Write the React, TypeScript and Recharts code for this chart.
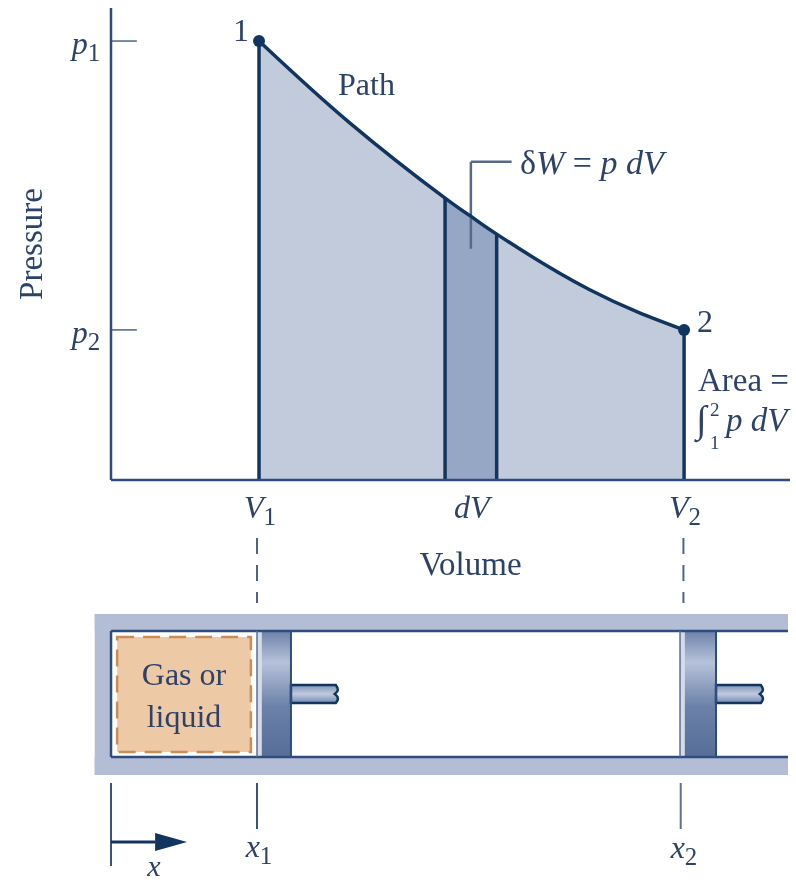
import React from 'react';
import {
  Area,
  ComposedChart,
  Line,
  ReferenceArea,
  ReferenceDot,
  ReferenceLine,
  XAxis,
  YAxis,
} from 'recharts';

// p-V curve (arbitrary 0-100 axis units)
const volumes = [21.8, 35.2, 49.2, 53, 56.8, 70.5, 84.4];
const pressures = [93, 75.6, 59.7, 55.9, 52.1, 40.3, 31.8];

const V1 = 21.8;
const DV_LEFT = 49.2;
const DV_MID = 53;
const DV_RIGHT = 56.8;
const V2 = 84.4;
const P1 = 93;
const P2 = 31.8;

const volumeTicks = [V1, DV_MID, V2];
const pressureTicks = [P2, P1];
const volumeTickNames: Record<number, [string, string]> = {
  [V1]: ['V', '1'],
  [DV_MID]: ['dV', ''],
  [V2]: ['V', '2'],
};
const pressureTickNames: Record<number, [string, string]> = {
  [P1]: ['p', '1'],
  [P2]: ['p', '2'],
};

const curve = volumes.map((volume, i) => ({
  volume,
  pressure: pressures[i],
  strip: volume >= DV_LEFT && volume <= DV_RIGHT ? pressures[i] : null,
}));

// cylinder parts, same volume units across, bore-centred units down
const housing = [-2.4, 99.7];
const topWall = [-80, -63];
const bottomWall = [63, 81];
const gasBox = [0.9, 20.6, -57, 58];
const pistons = [
  { light: 21.5, body: 22.2, face: 26.5, rodEnd: 33.1 },
  { light: 83.8, body: 84.5, face: 89.1, rodEnd: 95.7 },
];
const stations = pistons.map((p) => ({ v: p.light, bore: 0 }));

const INK = '#2c4268';
const NAVY = '#12355f';
const SERIF = '"Liberation Serif", serif';

function SubLabel({ x, y, name, sub, size = 32 }: any) {
  return (
    <text x={x} y={y} fill={INK} fontFamily={SERIF} fontSize={size} textAnchor="middle">
      <tspan fontStyle="italic">{name}</tspan>
      {sub ? <tspan fontSize={size * 0.78} dy={7}>{sub}</tspan> : null}
    </text>
  );
}

function VolumeTick({ x, payload }: any) {
  const [name, sub] = volumeTickNames[payload.value];
  return <SubLabel x={x + 1} y={518} name={name} sub={sub} />;
}

function PressureTick({ y, payload }: any) {
  const [name, sub] = pressureTickNames[payload.value];
  return <SubLabel x={86} y={y + 13} name={name} sub={sub} />;
}

function GasLabel({ viewBox }: any) {
  const cx = viewBox.x + viewBox.width / 2;
  return (
    <g fontFamily={SERIF} fill={INK} fontSize={32} textAnchor="middle">
      <text x={cx} y={viewBox.y + 48}>Gas or</text>
      <text x={cx} y={viewBox.y + 90}>liquid</text>
    </g>
  );
}

function Rod({ x, y, width, height }: any) {
  const r = x + width;
  const b = y + height;
  return (
    <path
      d={`M${x} ${y}H${r}C${r + 3} ${y + 4} ${r + 3} ${y + 6} ${r - 1} ${y + height / 2}C${r + 3} ${b - 6} ${r + 3} ${b - 3} ${r} ${b}H${x}Z`}
      fill="url(#rodFill)"
      stroke={NAVY}
      strokeWidth={2.5}
    />
  );
}

function ArrowHead({ x, y, width, height }: any) {
  return <path d={`M${x} ${y}L${x + width} ${y + height / 2}L${x} ${y + height}Z`} fill={NAVY} />;
}

function PvChart() {
  return (
    <ComposedChart
      width={796}
      height={600}
      data={curve}
      margin={{ top: 8, right: 6, bottom: 0, left: 0 }}
    >
      <XAxis
        dataKey="volume"
        type="number"
        domain={[0, 100]}
        ticks={volumeTicks}
        tick={<VolumeTick />}
        tickLine={false}
        height={120}
        axisLine={{ stroke: '#2f4d7c', strokeWidth: 2.5 }}
        label={{ value: 'Volume', position: 'insideBottom', offset: 25, dx: 20, fill: INK, fontSize: 33, fontFamily: SERIF }}
      />
      <YAxis
        type="number"
        domain={[0, 100]}
        ticks={pressureTicks}
        tick={<PressureTick />}
        tickLine={false}
        width={111}
        axisLine={{ stroke: '#2f4d7c', strokeWidth: 2.5 }}
        label={{ value: 'Pressure', angle: -90, position: 'insideLeft', offset: 30, textAnchor: 'middle', fill: INK, fontSize: 33, fontFamily: SERIF }}
      />
      <Area dataKey="pressure" type="natural" fill="#c2cbdc" fillOpacity={1} stroke="none" dot={false} isAnimationActive={false} />
      <Area dataKey="strip" type="natural" fill="#96a6c5" fillOpacity={1} stroke="none" dot={false} isAnimationActive={false} />
      <ReferenceLine segment={[{ x: 0, y: P1 }, { x: 3.8, y: P1 }]} stroke="#4d6488" strokeWidth={1.5} />
      <ReferenceLine segment={[{ x: 0, y: P2 }, { x: 3.8, y: P2 }]} stroke="#4d6488" strokeWidth={1.5} />
      <ReferenceLine segment={[{ x: V1, y: 0 }, { x: V1, y: P1 }]} stroke={NAVY} strokeWidth={3.5} />
      <ReferenceLine segment={[{ x: DV_LEFT, y: 0 }, { x: DV_LEFT, y: 59.7 }]} stroke={NAVY} strokeWidth={3.5} />
      <ReferenceLine segment={[{ x: DV_RIGHT, y: 0 }, { x: DV_RIGHT, y: 52.1 }]} stroke={NAVY} strokeWidth={3.5} />
      <ReferenceLine segment={[{ x: V2, y: 0 }, { x: V2, y: P2 }]} stroke={NAVY} strokeWidth={3.5} />
      <ReferenceLine segment={[{ x: DV_MID, y: 49 }, { x: DV_MID, y: 67.4 }]} stroke="#56698a" strokeWidth={2.5} />
      <ReferenceLine segment={[{ x: DV_MID, y: 67.4 }, { x: 59, y: 67.4 }]} stroke="#56698a" strokeWidth={2.5} />
      <Line dataKey="pressure" type="natural" stroke={NAVY} strokeWidth={3.5} dot={false} isAnimationActive={false} />
      <ReferenceDot x={V1} y={P1} r={6} fill={NAVY} stroke="none" />
      <ReferenceDot x={V2} y={P2} r={6} fill={NAVY} stroke="none" />
      <g fontFamily={SERIF} fill={INK}>
        <text x={233} y={41} fontSize={32}>1</text>
        <text x={338} y={95} fontSize={32}>Path</text>
        <text x={697} y={332} fontSize={32}>2</text>
        <text x={520} y={174} fontSize={34}>
          <tspan>δ</tspan>
          <tspan fontStyle="italic">W</tspan>
          <tspan> = </tspan>
          <tspan fontStyle="italic">p dV</tspan>
        </text>
        <text x={698} y={391} fontSize={33}>Area =</text>
        <text x={696} y={432} fontSize={38}>∫</text>
        <text x={710} y={416} fontSize={19}>2</text>
        <text x={710} y={449} fontSize={19}>1</text>
        <text x={726} y={431} fontSize={33} fontStyle="italic">p dV</text>
      </g>
    </ComposedChart>
  );
}

function CylinderChart() {
  const wall = '#b3bdd6';
  return (
    <ComposedChart width={796} height={353} data={stations} margin={{ top: 0, right: 0, bottom: 0, left: 0 }}>
      <defs>
        <linearGradient id="pistonFill" x1="0" y1="0" x2="0" y2="1">
          <stop offset="0" stopColor="#6d82aa" />
          <stop offset="0.25" stopColor="#b7c2d9" />
          <stop offset="0.6" stopColor="#6b81a8" />
          <stop offset="1" stopColor="#566d98" />
        </linearGradient>
        <linearGradient id="rodFill" x1="0" y1="0" x2="0" y2="1">
          <stop offset="0" stopColor="#7f93b8" />
          <stop offset="0.5" stopColor="#c0cadf" />
          <stop offset="1" stopColor="#7489b0" />
        </linearGradient>
      </defs>
      <XAxis type="number" dataKey="v" domain={[-16.35, 100.88]} hide />
      <YAxis type="number" domain={[-164, 189]} reversed hide />
      <Line dataKey="bore" stroke="none" dot={false} isAnimationActive={false} />

      <ReferenceArea x1={housing[0]} x2={housing[1]} y1={topWall[0]} y2={topWall[1]} fill={wall} fillOpacity={1} stroke="none" ifOverflow="visible" />
      <ReferenceArea x1={housing[0]} x2={housing[1]} y1={bottomWall[0]} y2={bottomWall[1]} fill={wall} fillOpacity={1} stroke="none" ifOverflow="visible" />
      <ReferenceArea x1={housing[0]} x2={0} y1={topWall[0]} y2={bottomWall[1]} fill={wall} fillOpacity={1} stroke="none" ifOverflow="visible" />
      <ReferenceLine segment={[{ x: 0, y: topWall[1] }, { x: housing[1], y: topWall[1] }]} stroke="#2f4d7c" strokeWidth={2.5} />
      <ReferenceLine segment={[{ x: 0, y: bottomWall[0] }, { x: housing[1], y: bottomWall[0] }]} stroke="#2f4d7c" strokeWidth={2.5} />
      <ReferenceLine segment={[{ x: 0, y: topWall[1] }, { x: 0, y: bottomWall[0] }]} stroke="#2f4d7c" strokeWidth={2.5} />

      <ReferenceArea
        x1={gasBox[0]}
        x2={gasBox[1]}
        y1={gasBox[2]}
        y2={gasBox[3]}
        fill="#eec9a6"
        fillOpacity={1}
        stroke="#c98d55"
        strokeWidth={2.5}
        strokeDasharray="17 9"
        ifOverflow="visible"
        label={<GasLabel />}
      />

      {pistons.map((p) => (
        <React.Fragment key={p.light}>
          <ReferenceArea x1={p.light} x2={p.body} y1={-63} y2={63} fill="#d5dbe9" fillOpacity={1} stroke="none" ifOverflow="visible" />
          <ReferenceArea x1={p.body} x2={p.face} y1={-63} y2={63} fill="url(#pistonFill)" fillOpacity={1} stroke="none" ifOverflow="visible" />
          <ReferenceLine segment={[{ x: p.light, y: -63 }, { x: p.light, y: 63 }]} stroke="#5a7096" strokeWidth={1.5} />
          <ReferenceLine segment={[{ x: p.face, y: -63 }, { x: p.face, y: 63 }]} stroke="#2f4d7c" strokeWidth={2} />
          <ReferenceArea x1={p.face} x2={p.rodEnd} y1={-9} y2={9} shape={<Rod />} ifOverflow="visible" />
        </React.Fragment>
      ))}

      <ReferenceLine segment={[{ x: 21.5, y: -156 }, { x: 21.5, y: -91 }]} stroke="#4d6488" strokeWidth={2} strokeDasharray="16 11" />
      <ReferenceLine segment={[{ x: 84.3, y: -156 }, { x: 84.3, y: -91 }]} stroke="#4d6488" strokeWidth={2} strokeDasharray="16 11" />
      <ReferenceLine segment={[{ x: 0, y: 89 }, { x: 0, y: 172 }]} stroke="#3a5480" strokeWidth={2} />
      <ReferenceLine segment={[{ x: 21.5, y: 89 }, { x: 21.5, y: 135 }]} stroke="#3a5480" strokeWidth={2} />
      <ReferenceLine segment={[{ x: 83.9, y: 89 }, { x: 83.9, y: 135 }]} stroke="#5d7093" strokeWidth={2} />
      <ReferenceLine segment={[{ x: 0, y: 148 }, { x: 6.5, y: 148 }]} stroke={NAVY} strokeWidth={3} />
      <ReferenceArea x1={6.5} x2={11.2} y1={139} y2={157} shape={<ArrowHead />} ifOverflow="visible" />

      <text x={154} y={346} fontFamily={SERIF} fill={INK} fontSize={30} fontStyle="italic" textAnchor="middle">x</text>
      <SubLabel x={259} y={327} name="x" sub="1" />
      <SubLabel x={684} y={328} name="x" sub="2" />
    </ComposedChart>
  );
}

export default function App() {
  return (
    <div style={{ position: 'absolute', left: 0, top: 0, width: 796, height: 883, background: '#fff', overflow: 'hidden', filter: 'blur(0.5px)' }}>
      <div style={{ position: 'absolute', left: 0, top: 0 }}>
        <PvChart />
      </div>
      <div style={{ position: 'absolute', left: 0, top: 530 }}>
        <CylinderChart />
      </div>
    </div>
  );
}
